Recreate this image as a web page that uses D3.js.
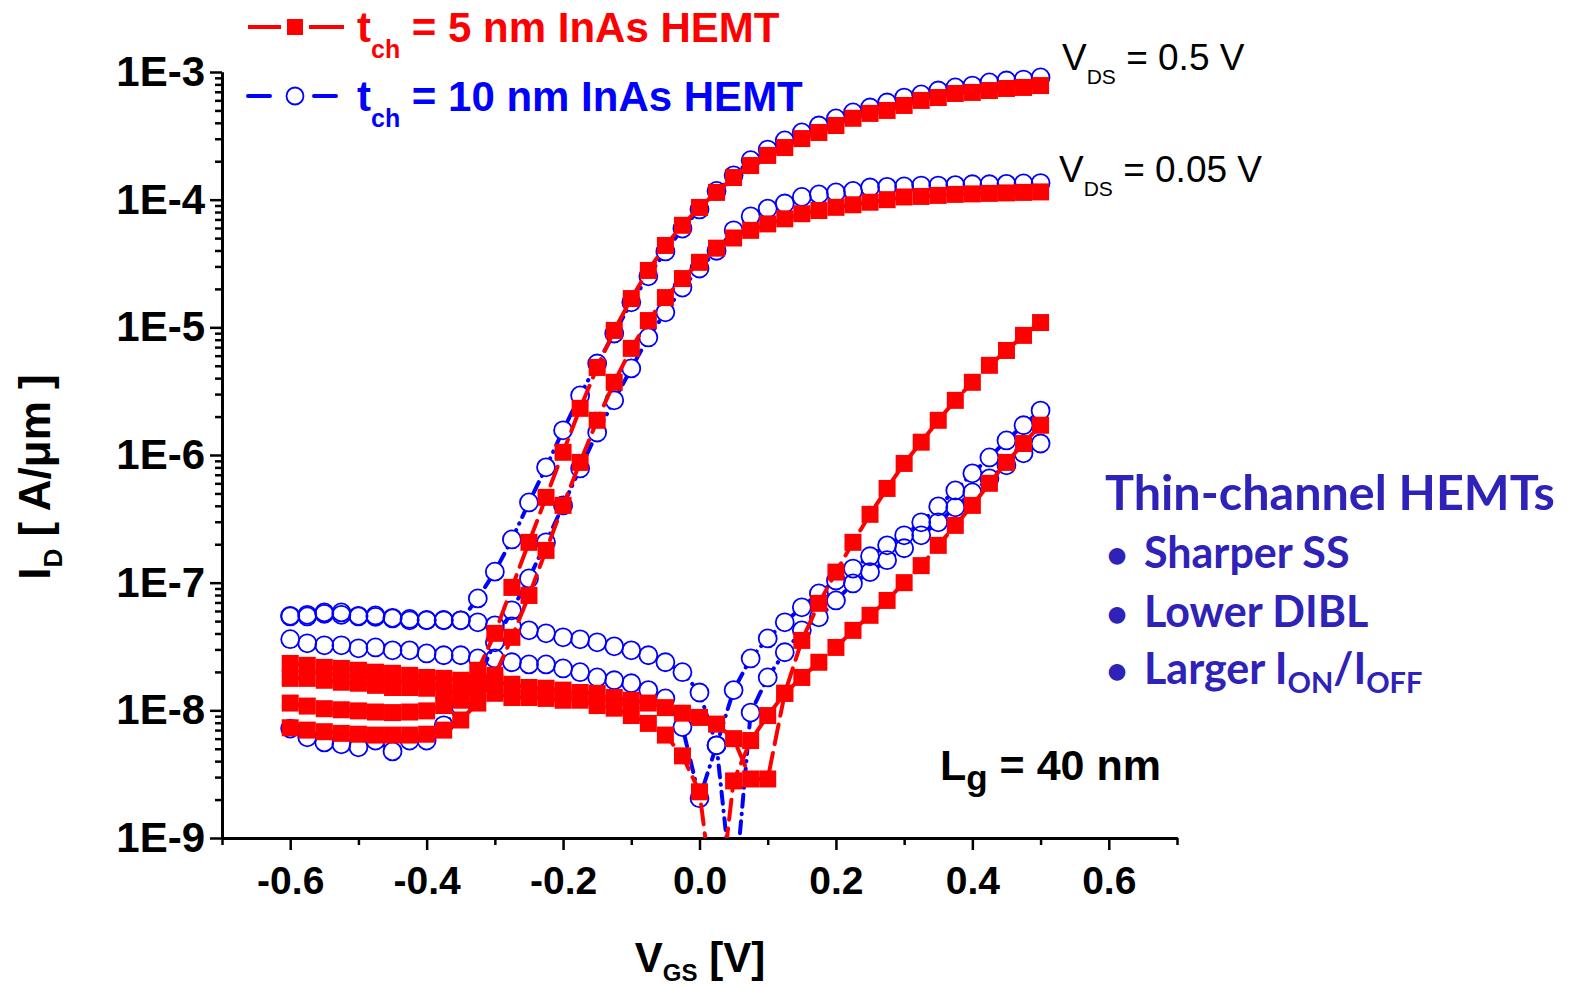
<!DOCTYPE html>
<html>
<head>
<meta charset="utf-8">
<script src="https://cdn.jsdelivr.net/npm/d3@7"></script>
<style>
  body { margin: 0; background: #fff; }
  svg { display: block; }
</style>
</head>
<body>
<div id="chart"></div>
<script>
// gate voltage grid (V)
const vgs = [-0.6, -0.575, -0.55, -0.525, -0.5, -0.475, -0.45, -0.425, -0.4, -0.375,
  -0.35, -0.325, -0.3, -0.275, -0.25, -0.225, -0.2, -0.175, -0.15, -0.125,
  -0.1, -0.075, -0.05, -0.025, 0, 0.025, 0.05, 0.075, 0.1, 0.125,
  0.15, 0.175, 0.2, 0.225, 0.25, 0.275, 0.3, 0.325, 0.35, 0.375,
  0.4, 0.425, 0.45, 0.475, 0.5];

// t_ch = 5 nm (red squares), A/um
const red5_idHi = [1.14e-8, 1.08e-8, 1.03e-8, 1.01e-8, 9.9e-9, 9.7e-9, 9.6e-9, 9.7e-9, 9.9e-9, 1.09e-8,
  1.20e-8, 2.06e-8, 4.01e-8, 9.18e-8, 2.07e-7, 4.66e-7, 1.05e-6, 2.32e-6, 4.85e-6, 9.46e-6,
  1.68e-5, 2.79e-5, 4.38e-5, 6.3e-5, 8.69e-5, 1.14e-4, 1.49e-4, 1.85e-4, 2.22e-4, 2.56e-4,
  3.01e-4, 3.36e-4, 3.81e-4, 4.34e-4, 4.74e-4, 5.00e-4, 5.47e-4, 5.99e-4, 6.31e-4, 6.79e-4,
  6.92e-4, 7.16e-4, 7.43e-4, 7.57e-4, 7.83e-4];
const red5_idLo = [7.3e-9, 7.0e-9, 6.8e-9, 6.6e-9, 6.5e-9, 6.4e-9, 6.4e-9, 6.4e-9, 6.5e-9, 7.0e-9,
  8.4e-9, 1.14e-8, 1.88e-8, 3.73e-8, 7.94e-8, 1.79e-7, 4.03e-7, 8.75e-7, 1.87e-6, 3.71e-6,
  6.84e-6, 1.13e-5, 1.71e-5, 2.41e-5, 3.23e-5, 4.17e-5, 5.01e-5, 5.75e-5, 6.46e-5, 7.08e-5,
  7.76e-5, 8.22e-5, 8.71e-5, 9.12e-5, 9.55e-5, 1.00e-4, 1.05e-4, 1.06e-4, 1.08e-4, 1.10e-4,
  1.11e-4, 1.12e-4, 1.13e-4, 1.14e-4, 1.15e-4];
const red5_igA = [2.33e-8, 2.25e-8, 2.17e-8, 2.13e-8, 2.06e-8, 1.99e-8, 1.95e-8, 1.88e-8, 1.81e-8, 1.78e-8,
  1.72e-8, 1.69e-8, 1.66e-8, 1.60e-8, 1.51e-8, 1.49e-8, 1.44e-8, 1.38e-8, 1.36e-8, 1.26e-8,
  1.20e-8, 1.14e-8, 1.05e-8, 9.5e-9, 8.8e-9, 7.8e-9, 6.0e-9, 2.9e-9, 2.9e-9, 1.36e-8,
  3.53e-8, 6.89e-8, 1.21e-7, 2.07e-7, 3.43e-7, 5.47e-7, 8.59e-7, 1.26e-6, 1.87e-6, 2.68e-6,
  3.71e-6, 5.04e-6, 6.59e-6, 8.65e-6, 1.09e-5];
const red5_igB = [1.78e-8, 1.78e-8, 1.72e-8, 1.66e-8, 1.63e-8, 1.57e-8, 1.51e-8, 1.51e-8, 1.49e-8, 1.44e-8,
  1.38e-8, 1.36e-8, 1.36e-8, 1.26e-8, 1.26e-8, 1.24e-8, 1.20e-8, 1.20e-8, 1.09e-8, 1.04e-8,
  9.1e-9, 7.9e-9, 6.4e-9, 4.4e-9, 2.3e-9, 2.0e-10, 2.8e-9, 5.8e-9, 9.1e-9, 1.36e-8,
  1.81e-8, 2.38e-8, 3.11e-8, 4.23e-8, 5.55e-8, 7.26e-8, 1.00e-7, 1.36e-7, 1.96e-7, 2.81e-7,
  4.03e-7, 6.00e-7, 8.75e-7, 1.23e-6, 1.71e-6];

// t_ch = 10 nm (blue circles), A/um
const blue10_idHi = [5.5e-8, 5.6e-8, 5.7e-8, 5.6e-8, 5.5e-8, 5.4e-8, 5.3e-8, 5.2e-8, 5.1e-8, 5.1e-8,
  5.07e-8, 7.53e-8, 1.22e-7, 2.18e-7, 4.25e-7, 8.0e-7, 1.56e-6, 2.93e-6, 5.21e-6, 8.95e-6,
  1.57e-5, 2.51e-5, 3.93e-5, 5.94e-5, 8.38e-5, 1.17e-4, 1.55e-4, 2.04e-4, 2.47e-4, 2.91e-4,
  3.36e-4, 3.81e-4, 4.33e-4, 4.82e-4, 5.27e-4, 5.77e-4, 6.31e-4, 6.67e-4, 7.16e-4, 7.57e-4,
  7.83e-4, 8.28e-4, 8.58e-4, 8.73e-4, 9.06e-4];
const blue10_idLo = [7.2e-9, 6.15e-9, 5.61e-9, 5.42e-9, 5.13e-9, 5.8e-9, 4.77e-9, 5.8e-9, 5.8e-9, 7.63e-9,
  1.07e-8, 1.72e-8, 3.41e-8, 6.07e-8, 1.08e-7, 2.07e-7, 4.03e-7, 7.85e-7, 1.50e-6, 2.68e-6,
  4.77e-6, 8.34e-6, 1.31e-5, 2.05e-5, 2.89e-5, 3.98e-5, 5.75e-5, 7.41e-5, 8.51e-5, 9.33e-5,
  1.05e-4, 1.10e-4, 1.14e-4, 1.17e-4, 1.245e-4, 1.26e-4, 1.27e-4, 1.29e-4, 1.29e-4, 1.30e-4,
  1.32e-4, 1.32e-4, 1.33e-4, 1.34e-4, 1.35e-4];
const blue10_igA = [5.44e-8, 5.44e-8, 5.85e-8, 5.85e-8, 5.44e-8, 5.54e-8, 5.25e-8, 5.07e-8, 5.07e-8, 5.07e-8,
  5.07e-8, 4.89e-8, 4.63e-8, 4.55e-8, 4.23e-8, 4.01e-8, 3.73e-8, 3.60e-8, 3.41e-8, 3.17e-8,
  2.95e-8, 2.70e-8, 2.38e-8, 1.99e-8, 1.38e-8, 5.32e-9, 3.0e-10, 9.6e-9, 1.81e-8, 2.85e-8,
  4.23e-8, 5.35e-8, 7.26e-8, 9.86e-8, 1.21e-7, 1.50e-7, 1.86e-7, 2.35e-7, 2.97e-7, 3.89e-7,
  5.09e-7, 6.56e-7, 8.30e-7, 1.03e-6, 1.23e-6];
const blue10_igB = [3.61e-8, 3.35e-8, 3.23e-8, 3.23e-8, 3.06e-8, 3.11e-8, 2.95e-8, 2.95e-8, 2.79e-8, 2.70e-8,
  2.70e-8, 2.55e-8, 2.55e-8, 2.38e-8, 2.29e-8, 2.29e-8, 2.13e-8, 1.99e-8, 1.81e-8, 1.72e-8,
  1.63e-8, 1.44e-8, 1.24e-8, 7.4e-9, 2.05e-9, 5.32e-9, 1.44e-8, 2.55e-8, 3.66e-8, 4.89e-8,
  6.41e-8, 8.24e-8, 1.04e-7, 1.29e-7, 1.61e-7, 1.96e-7, 2.35e-7, 2.97e-7, 3.96e-7, 5.28e-7,
  7.18e-7, 9.57e-7, 1.30e-6, 1.71e-6, 2.23e-6];

// axis ticks
const xMajor = [-0.6, -0.4, -0.2, 0.0, 0.2, 0.4, 0.6];
const xMinor = [-0.7, -0.5, -0.3, -0.1, 0.1, 0.3, 0.5, 0.7];
const yMajor = [1e-9, 1e-8, 1e-7, 1e-6, 1e-5, 1e-4, 1e-3];
const yTickLabels = ["1E-9", "1E-8", "1E-7", "1E-6", "1E-5", "1E-4", "1E-3"];

const FONT = "'Liberation Sans', Arial, Helvetica, sans-serif";
const RED = "#ff0000", BLUE = "#0000ff";

const W = 1570, H = 988;
const svg = d3.select("#chart").append("svg")
  .attr("width", W).attr("height", H);
const defs = svg.append("defs");

const x = d3.scaleLinear().domain([-0.7, 0.7]).range([222, 1177]);
const y = d3.scaleLog().domain([1e-9, 1e-3]).range([838, 72]);

defs.append("clipPath").attr("id", "plotClip")
  .append("rect").attr("x", 0).attr("y", 0).attr("width", W).attr("height", 838);

// axes
function styleAxis(size) {
  return g => {
    g.select(".domain").attr("stroke", "#000").attr("stroke-width", 3);
    g.selectAll(".tick line").attr("stroke", "#000").attr("stroke-width", 2.5);
    g.selectAll("text").attr("font-family", FONT).attr("font-weight", "bold")
      .attr("font-size", size).attr("fill", "#000");
  };
}

svg.append("g").attr("transform", "translate(0,838)")
  .call(d3.axisBottom(x).tickValues(xMinor).tickSize(7).tickSizeOuter(0).tickFormat(""))
  .call(styleAxis(39));
svg.append("g").attr("transform", "translate(0,838)")
  .call(d3.axisBottom(x).tickValues(xMajor).tickSize(12).tickSizeOuter(0)
    .tickPadding(16).tickFormat(d => d.toFixed(1)))
  .call(styleAxis(39));

const yMinor = y.ticks().filter(v => yMajor.indexOf(v) < 0);
svg.append("g").attr("transform", "translate(222,0)")
  .call(d3.axisLeft(y).tickValues(yMinor).tickSize(7).tickSizeOuter(0).tickFormat(""))
  .call(styleAxis(42));
svg.append("g").attr("transform", "translate(222,0)")
  .call(d3.axisLeft(y).tickValues(yMajor).tickSize(12).tickSizeOuter(0)
    .tickPadding(5).tickFormat((d, i) => yTickLabels[i]))
  .call(styleAxis(42));

// series
const BLUE_DASH = "12,7,0.5,7", RED_DASH = "20,9";
const series = [
  { vals: blue10_igB, color: BLUE, marker: "circle", dash: BLUE_DASH },
  { vals: blue10_igA, color: BLUE, marker: "circle", dash: BLUE_DASH },
  { vals: blue10_idLo, color: BLUE, marker: "circle", dash: BLUE_DASH },
  { vals: blue10_idHi, color: BLUE, marker: "circle", dash: BLUE_DASH },
  { vals: red5_idLo, color: RED, marker: "square", dash: RED_DASH },
  { vals: red5_idHi, color: RED, marker: "square", dash: RED_DASH },
  { vals: red5_igB, color: RED, marker: "square", dash: RED_DASH },
  { vals: red5_igA, color: RED, marker: "square", dash: RED_DASH }
];

const line = d3.line().x(d => x(d[0])).y(d => y(d[1]));
const plot = svg.append("g").attr("clip-path", "url(#plotClip)");

series.forEach((s, k) => {
  const pts = vgs.map((v, i) => [v, s.vals[i]]);
  const g = plot.append("g");
  const path = g.append("path").datum(pts)
    .attr("d", line)
    .attr("fill", "none")
    .attr("stroke", s.color)
    .attr("stroke-width", 4)
    .attr("stroke-linecap", "round")
    .attr("stroke-dasharray", s.dash);
  if (s.marker === "circle") {
    // hollow symbols: the line stops at the symbol edge
    const m = defs.append("mask").attr("id", "gap" + k)
      .attr("maskUnits", "userSpaceOnUse")
      .attr("x", 0).attr("y", 0).attr("width", W).attr("height", H);
    m.append("rect").attr("width", W).attr("height", H).attr("fill", "#fff");
    m.selectAll("circle").data(pts).join("circle")
      .attr("cx", d => x(d[0])).attr("cy", d => y(d[1])).attr("r", 9).attr("fill", "#000");
    path.attr("mask", "url(#gap" + k + ")");
    g.selectAll("circle").data(pts).join("circle")
      .attr("cx", d => x(d[0])).attr("cy", d => y(d[1]))
      .attr("r", 9)
      .attr("fill", "none")
      .attr("stroke", s.color)
      .attr("stroke-width", 1.8);
  } else {
    g.selectAll("rect").data(pts).join("rect")
      .attr("x", d => x(d[0]) - 8.5).attr("y", d => y(d[1]) - 8.5)
      .attr("width", 17).attr("height", 17)
      .attr("fill", s.color);
  }
});

// legend
const leg = svg.append("g");
leg.append("line").attr("x1", 248).attr("x2", 281).attr("y1", 27).attr("y2", 27)
  .attr("stroke", RED).attr("stroke-width", 4);
leg.append("line").attr("x1", 309).attr("x2", 344).attr("y1", 27).attr("y2", 27)
  .attr("stroke", RED).attr("stroke-width", 4);
leg.append("rect").attr("x", 287).attr("y", 19).attr("width", 16).attr("height", 16).attr("fill", RED);

leg.append("line").attr("x1", 248).attr("x2", 270).attr("y1", 96).attr("y2", 96)
  .attr("stroke", BLUE).attr("stroke-width", 4).attr("stroke-linecap", "round");
leg.append("line").attr("x1", 314).attr("x2", 336).attr("y1", 96).attr("y2", 96)
  .attr("stroke", BLUE).attr("stroke-width", 4).attr("stroke-linecap", "round");
leg.append("circle").attr("cx", 295).attr("cy", 96).attr("r", 8.5)
  .attr("fill", "none").attr("stroke", BLUE).attr("stroke-width", 1.8);

function subText(parent, xPos, yPos, parts, opts) {
  const t = parent.append("text").attr("x", xPos).attr("y", yPos)
    .attr("font-family", opts.family || FONT)
    .attr("font-weight", opts.weight || "bold")
    .attr("font-size", opts.size)
    .attr("fill", opts.color || "#000")
    .attr("text-anchor", opts.anchor || "start");
  if (opts.transform) t.attr("transform", opts.transform);
  let shift = 0;
  parts.forEach(p => {
    const ts = t.append("tspan").text(p.t);
    const target = p.sub ? opts.subDy : 0;
    if (target !== shift) { ts.attr("dy", target - shift); shift = target; }
    if (p.sub) ts.attr("font-size", opts.subSize);
  });
  return t;
}

subText(leg, 357, 42, [{ t: "t" }, { t: "ch", sub: true }, { t: " = 5 nm InAs HEMT" }],
  { size: 42, subSize: 25, subDy: 16, color: RED });
subText(leg, 357, 111, [{ t: "t" }, { t: "ch", sub: true }, { t: " = 10 nm InAs HEMT" }],
  { size: 42, subSize: 25, subDy: 16, color: BLUE });

// annotations
subText(svg, 1062, 70, [{ t: "V" }, { t: "DS", sub: true }, { t: " = 0.5 V" }],
  { size: 37, subSize: 21, subDy: 14, weight: "normal" });
subText(svg, 1059, 182, [{ t: "V" }, { t: "DS", sub: true }, { t: " = 0.05 V" }],
  { size: 37, subSize: 21, subDy: 14, weight: "normal" });
subText(svg, 940, 780, [{ t: "L" }, { t: "g", sub: true }, { t: " = 40 nm" }],
  { size: 43, subSize: 35, subDy: 10 });

// axis titles
subText(svg, 700, 972, [{ t: "V" }, { t: "GS", sub: true }, { t: " [V]" }],
  { size: 42, subSize: 24, subDy: 9, anchor: "middle" });
subText(svg, 0, 0, [{ t: "I" }, { t: "D", sub: true }, { t: " [ A/\u03bcm ]" }],
  { size: 44, subSize: 26, subDy: 12, anchor: "middle", transform: "translate(50,477) rotate(-90)" });

// text box
const NOTE = "#2e22b8";
const noteFont = "Lato, 'Open Sans', sans-serif";
svg.append("text").attr("x", 1105).attr("y", 510)
  .attr("font-family", noteFont).attr("font-weight", "bold").attr("font-size", 48.5)
  .attr("fill", NOTE).text("Thin-channel HEMTs");
const bullets = [
  [{ t: "Sharper SS" }],
  [{ t: "Lower DIBL" }],
  [{ t: "Larger I" }, { t: "ON", sub: true }, { t: "/I" }, { t: "OFF", sub: true }]
];
const bulletY = [568, 627, 684];
bullets.forEach((parts, i) => {
  svg.append("text").attr("x", 1106).attr("y", bulletY[i])
    .attr("font-family", noteFont).attr("font-weight", "bold").attr("font-size", 38)
    .attr("fill", NOTE).text("\u2022");
  subText(svg, 1144, bulletY[i], parts,
    { size: 43, subSize: 29, subDy: 9, color: NOTE, family: noteFont });
});
</script>
</body>
</html>
